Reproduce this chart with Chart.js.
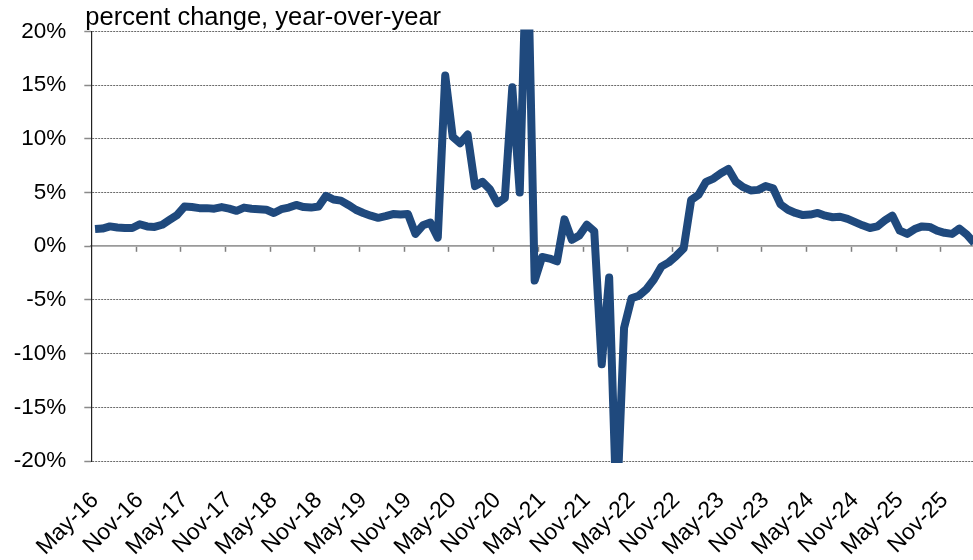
<!DOCTYPE html>
<html>
<head>
<meta charset="utf-8">
<script src="https://cdn.jsdelivr.net/npm/chart.js@4.4.1/dist/chart.umd.min.js"></script>
<style>
  html, body { margin: 0; padding: 0; overflow: hidden; background: #fff; }
  #wrap { width: 973px; height: 560px; overflow: hidden; position: relative; }
  canvas { display: block; }
</style>
</head>
<body>
<div id="wrap"><canvas id="c" width="978" height="560"></canvas></div>
<script>
const subtitle = 'percent change, year-over-year';

const months = [
  'May-16','Jun-16','Jul-16','Aug-16','Sep-16','Oct-16','Nov-16','Dec-16',
  'Jan-17','Feb-17','Mar-17','Apr-17','May-17','Jun-17','Jul-17','Aug-17','Sep-17','Oct-17','Nov-17','Dec-17',
  'Jan-18','Feb-18','Mar-18','Apr-18','May-18','Jun-18','Jul-18','Aug-18','Sep-18','Oct-18','Nov-18','Dec-18',
  'Jan-19','Feb-19','Mar-19','Apr-19','May-19','Jun-19','Jul-19','Aug-19','Sep-19','Oct-19','Nov-19','Dec-19',
  'Jan-20','Feb-20','Mar-20','Apr-20','May-20','Jun-20','Jul-20','Aug-20','Sep-20','Oct-20','Nov-20','Dec-20',
  'Jan-21','Feb-21','Mar-21','Apr-21','May-21','Jun-21','Jul-21','Aug-21','Sep-21','Oct-21','Nov-21','Dec-21',
  'Jan-22','Feb-22','Mar-22','Apr-22','May-22','Jun-22','Jul-22','Aug-22','Sep-22','Oct-22','Nov-22','Dec-22',
  'Jan-23','Feb-23','Mar-23','Apr-23','May-23','Jun-23','Jul-23','Aug-23','Sep-23','Oct-23','Nov-23','Dec-23',
  'Jan-24','Feb-24','Mar-24','Apr-24','May-24','Jun-24','Jul-24','Aug-24','Sep-24','Oct-24','Nov-24','Dec-24',
  'Jan-25','Feb-25','Mar-25','Apr-25','May-25','Jun-25','Jul-25','Aug-25','Sep-25','Oct-25','Nov-25','Dec-25',
  'Jan-26','Feb-26','Mar-26'
];

const pctChange = [
  1.6, 1.65, 1.85, 1.75, 1.7, 1.7, 2.05, 1.85,
  1.8, 2.0, 2.45, 2.9, 3.7, 3.65, 3.55, 3.55, 3.5, 3.65, 3.5, 3.3,
  3.6, 3.5, 3.45, 3.4, 3.1, 3.45, 3.6, 3.85, 3.65, 3.6, 3.7, 4.7,
  4.35, 4.25, 3.85, 3.4, 3.1, 2.85, 2.65, 2.8, 3.0, 2.95, 3.0, 1.15,
  1.95, 2.2, 0.8, 15.9, 10.2, 9.6, 10.4, 5.6, 6.0, 5.3, 4.0, 4.5,
  14.8, 5.0, 30.0, -3.2, -1.0, -1.15, -1.4, 2.5, 0.6, 1.0, 2.0, 1.4,
  -11.0, -2.9, -25.0, -7.6, -4.85, -4.6, -4.0, -3.1, -1.9, -1.5, -0.9, -0.2,
  4.3, 4.8, 6.0, 6.3, 6.8, 7.2, 6.0, 5.5, 5.2, 5.25, 5.6, 5.4,
  3.9, 3.4, 3.1, 2.9, 2.95, 3.1, 2.85, 2.7, 2.75, 2.55, 2.25, 1.95,
  1.7, 1.85, 2.4, 2.85, 1.45, 1.15, 1.6, 1.85, 1.8, 1.45, 1.25, 1.15,
  1.64, 1.08, 0.3
];

const yMin = -20, yMax = 20, yStep = 5;
const labelEvery = 6;

const subtitlePlugin = {
  id: 'subtitleText',
  afterDraw(chart) {
    const ctx = chart.ctx;
    ctx.save();
    ctx.font = '25.5px "Liberation Sans", Arial, sans-serif';
    ctx.fillStyle = '#000';
    ctx.textBaseline = 'alphabetic';
    ctx.textAlign = 'left';
    ctx.fillText(subtitle, chart.chartArea.left - 6, 25);
    ctx.restore();
  }
};

new Chart(document.getElementById('c'), {
  type: 'line',
  data: {
    labels: months,
    datasets: [{
      data: pctChange,
      borderColor: '#1F497D',
      backgroundColor: '#1F497D',
      borderWidth: 8,
      pointRadius: 0,
      tension: 0,
      borderJoinStyle: 'round',
      borderCapStyle: 'butt',
      clip: 2,
      xAxisID: 'x'
    }]
  },
  options: {
    responsive: false,
    animation: false,
    devicePixelRatio: 1,
    layout: { autoPadding: false, padding: { top: 30, right: 0, bottom: 0, left: 0 } },
    plugins: { legend: { display: false }, tooltip: { enabled: false }, title: { display: false } },
    scales: {
      x: {
        type: 'category',
        position: 'bottom',
        offset: true,
        grid: { display: false, drawTicks: false },
        border: { display: false },
        ticks: {
          autoSkip: false,
          maxRotation: 45,
          minRotation: 45,
          padding: 26,
          color: '#000',
          font: { family: '"Liberation Sans", Arial, sans-serif', size: 23 },
          callback: function(val, idx) { return idx % labelEvery === 0 ? months[idx] : ''; }
        },
        afterFit: s => { s.height = 99; s.paddingRight = 0; s.paddingLeft = 0; }
      },
      x0: {
        type: 'category',
        position: { y: 0 },
        offset: true,
        grid: {
          offset: true,
          drawOnChartArea: false,
          drawTicks: true,
          tickLength: 5,
          tickWidth: 1.5,
          color: '#8c8c8c',
          tickColor: c => (c.index % labelEvery === 0 && c.index > 0) ? '#7f7f7f' : 'rgba(0,0,0,0)'
        },
        border: { display: true, color: '#9a9a9a', width: 1.8 },
        ticks: { display: false, autoSkip: false },
        afterFit: s => { s.paddingRight = 0; s.paddingLeft = 0; }
      },
      y: {
        min: yMin,
        max: yMax,
        position: 'left',
        grid: {
          color: c => (c.tick && c.tick.value === 0) ? 'rgba(0,0,0,0)' : '#6a6a6a',
          lineWidth: 1,
          drawTicks: true,
          tickLength: 7,
          tickColor: '#8a8a8a',
          tickWidth: 1.5,
          tickBorderDash: []
        },
        border: { display: true, color: '#222', width: 1.2, dash: [2, 1] },
        ticks: {
          stepSize: yStep,
          padding: 18,
          color: '#000',
          font: { family: '"Liberation Sans", Arial, sans-serif', size: 22.5 },
          callback: v => v + '%'
        },
        afterFit: s => { s.width = 91.3; }
      }
    }
  },
  plugins: [subtitlePlugin]
});
</script>
</body>
</html>
